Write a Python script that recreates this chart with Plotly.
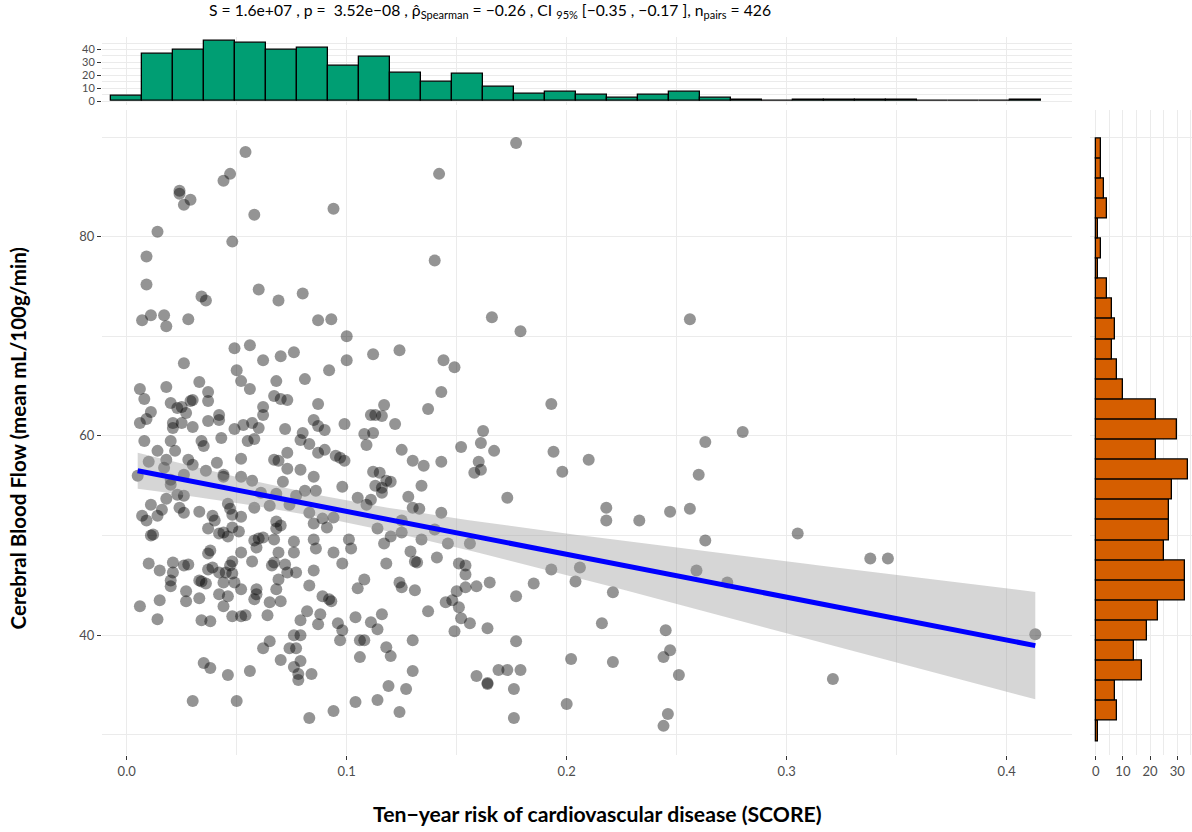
import numpy as np
import plotly.graph_objects as go

# ---------------- data ----------------
risk = [
 0.054,0.047,0.044,0.024,0.024,0.029,0.026,0.058,0.094,0.014,0.048,0.009,0.009,0.060,0.034,0.036,0.069,0.080,
 0.007,0.011,0.017,0.018,0.028,0.087,0.093,0.100,0.049,0.056,0.026,0.062,0.070,0.076,0.100,0.050,0.052,0.056,
 0.068,0.081,0.092,0.006,0.008,0.018,0.033,0.037,0.037,0.020,0.023,0.025,0.029,0.030,0.027,0.011,0.006,0.009,
 0.021,0.021,0.025,0.030,0.037,0.042,0.042,0.049,0.053,0.057,0.060,0.062,0.062,0.067,0.070,0.073,0.072,0.087,
 0.085,0.087,0.090,0.099,0.080,
 0.008,0.020,0.034,0.035,0.043,0.055,0.058,0.079,0.083,0.087,0.090,0.095,0.097,0.099,
 0.014,0.022,0.018,0.010,0.017,0.005,0.028,0.030,0.026,0.020,0.020,0.036,0.041,0.044,0.044,0.052,0.052,0.057,
 0.067,0.069,0.073,0.073,0.079,0.085,0.071,0.081,0.086,0.098,0.077,0.068,0.061,0.058,0.065,0.074,0.083,
 0.011,0.016,0.018,0.023,0.026,0.024,0.026,0.007,0.009,0.014,0.033,0.039,0.040,0.046,0.047,0.048,0.052,0.037,
 0.042,0.044,0.046,0.048,0.051,0.068,0.070,0.068,0.085,0.089,0.091,0.094,0.011,0.012,
 0.058,0.060,0.062,0.067,0.059,0.076,0.076,0.085,0.086,0.094,0.101,0.102,
 0.010,0.015,0.021,0.021,0.020,0.020,0.026,0.028,0.037,0.038,0.037,0.039,0.033,0.034,0.036,0.042,0.045,0.047,
 0.048,0.048,0.044,0.049,0.052,0.052,0.057,0.066,0.067,0.069,0.072,0.073,0.069,0.077,0.085,0.098,0.083,
 0.059,0.059,0.058,0.068,0.070,0.065,0.064,0.027,0.027,0.033,0.042,0.046,0.044,0.015,0.006,0.014,0.034,0.038,
 0.048,0.052,0.054,0.089,0.092,0.093,0.079,0.082,0.087,0.088,0.096,0.098,0.097,0.076,0.079,0.065,
 0.062,0.074,0.077,0.070,0.079,0.076,0.078,0.078,0.084,0.035,0.038,0.046,0.056,0.030,0.050,0.083,0.094,
 0.177,0.142,0.140,0.166,0.179,0.112,0.124,0.144,0.149,0.143,0.137,0.117,0.111,0.113,0.116,0.122,0.108,0.112,
 0.193,0.162,
 0.109,0.125,0.130,0.135,0.143,0.152,0.161,0.167,0.160,0.161,0.158,0.173,0.194,0.198,0.210,0.112,0.115,0.113,
 0.116,0.118,0.120,0.116,0.111,0.105,0.109,0.134,0.128,0.130,0.133,0.143,0.125,0.125,0.120,0.117,0.114,0.140,
 0.134,0.146,0.156,0.129,0.131,0.132,0.141,0.118,0.151,0.154,0.154,0.108,0.105,0.124,0.125,0.131,0.154,0.159,
 0.165,0.177,0.185,0.193,0.206,0.204,0.218,0.218,0.150,0.148,0.145,0.151,0.152,0.156,0.149,0.164,0.137,0.116,
 0.111,0.114,0.104,0.106,0.108,0.106,0.118,0.120,0.130,0.177,0.202,0.130,0.119,0.127,0.104,0.114,0.124,0.159,
 0.164,0.164,0.169,0.173,0.179,0.176,0.200,0.176,0.216,
 0.256,0.280,0.263,0.260,0.233,0.247,0.256,0.263,0.305,0.338,0.346,0.259,0.273,0.221,0.245,0.247,0.244,0.221,
 0.251,0.321,0.246,0.244,0.413,
]
cbf = [
 88.5,86.3,85.6,84.6,84.3,83.7,83.2,82.2,82.8,80.5,79.5,78.0,75.2,74.7,74.0,73.6,73.6,74.3,
 71.6,72.1,72.1,71.0,71.7,71.6,71.7,70.0,68.8,69.1,67.3,67.6,68.0,68.4,67.6,66.6,65.5,64.7,
 65.5,65.7,66.6,64.7,63.7,64.9,65.4,64.4,63.5,63.3,62.8,62.9,63.5,63.6,62.3,62.4,61.3,61.7,
 61.3,60.8,61.3,60.9,61.5,62.1,61.6,60.7,61.1,61.3,60.8,62.9,62.1,64.0,63.7,63.6,60.7,63.2,
 61.6,61.0,60.6,61.2,60.3,
 59.5,59.5,59.5,59.0,59.8,59.5,59.7,59.6,59.2,58.3,58.6,58.0,57.8,57.5,
 58.5,58.5,57.6,57.4,56.8,56.0,57.6,57.1,56.1,55.6,55.1,56.5,57.3,56.1,55.9,57.7,55.9,55.5,
 57.6,57.5,58.3,56.7,56.6,55.9,55.4,54.5,54.5,54.9,54.0,54.2,54.3,52.8,53.0,53.1,52.3,
 53.1,52.6,53.7,54.1,54.0,52.8,52.3,52.0,51.5,52.0,52.4,52.0,51.5,53.2,52.7,52.1,51.9,50.7,
 50.2,50.3,49.9,50.8,50.4,51.4,51.0,50.7,51.2,51.7,50.8,51.8,50.0,50.1,
 49.5,49.7,49.8,49.6,48.8,49.4,48.3,49.6,48.7,48.3,49.6,48.7,
 47.2,46.5,47.3,46.3,45.5,44.9,47.0,47.1,48.2,48.5,46.6,46.8,45.5,45.4,45.2,46.3,46.3,47.0,
 47.4,46.2,45.3,45.3,44.6,48.3,47.4,47.0,47.3,48.3,47.1,46.3,45.6,46.3,46.5,47.2,45.0,
 44.6,44.1,43.6,44.6,43.4,43.3,42.0,44.4,43.4,43.7,44.1,43.9,42.9,43.5,42.9,41.6,41.5,41.4,
 41.9,41.9,42.0,43.9,43.6,43.4,41.5,42.4,41.1,42.1,41.2,40.5,39.5,40.0,40.0,39.4,
 38.7,38.7,38.7,37.5,37.4,36.8,36.1,35.5,36.1,37.2,36.7,36.0,36.4,33.4,33.4,31.7,32.4,
 89.4,86.3,77.6,71.9,70.5,68.2,68.6,67.6,66.9,64.4,62.7,63.1,62.1,62.1,62.0,61.2,60.2,60.3,
 63.2,60.5,
 59.1,58.6,57.5,57.0,57.4,58.9,59.3,58.5,57.4,56.6,56.3,53.8,58.4,56.4,57.6,56.4,56.3,55.0,
 54.8,55.5,55.4,54.3,53.6,53.8,53.1,55.0,53.9,52.8,52.7,52.3,51.5,50.3,49.9,49.2,50.7,50.6,
 49.6,49.2,49.2,48.4,47.4,47.3,47.8,47.2,47.2,47.0,46.1,45.6,44.7,45.3,44.8,44.5,44.8,44.9,
 45.3,43.9,45.2,46.6,46.8,45.4,52.8,51.5,44.4,43.5,43.3,42.8,41.7,41.2,40.4,40.7,42.4,42.1,
 41.3,40.6,41.8,39.5,39.5,37.8,38.8,37.9,39.5,39.4,37.6,36.4,34.9,34.6,33.3,33.5,32.3,35.9,
 35.2,35.1,36.5,36.5,36.5,34.6,33.1,31.7,41.2,
 71.7,60.4,59.4,56.1,51.5,52.4,52.7,49.5,50.2,47.7,47.7,46.5,45.3,44.3,40.5,38.5,37.8,37.3,
 36.0,35.6,32.1,30.9,40.1,
]

# marginal histogram of the risk score (30 bins)
risk_bin_start = -0.0073
risk_bin_width = 0.0141
risk_counts = [4, 37, 40, 47, 45, 40, 41, 27, 34, 22, 15, 21, 11, 6, 7,
               5, 3, 5, 7, 3, 1, 0, 1, 1, 1, 1, 0, 0, 0, 1]

# marginal histogram of cerebral blood flow (30 bins, from low to high)
cbf_bin_start = 29.37
cbf_bin_width = 2.017
cbf_counts = [1, 8, 7, 17, 14, 19, 23, 33, 33, 25, 27, 27, 28, 34, 22,
              30, 22, 10, 8, 6, 7, 6, 4, 1, 2, 1, 4, 3, 2, 2]

x_ticks = [0.0, 0.1, 0.2, 0.3, 0.4]
y_ticks = [40, 60, 80]
top_hist_ticks = [0, 10, 20, 30, 40]
right_hist_ticks = [0, 10, 20, 30]

title_text = ("S = 1.6e+07 , p =  3.52e−08 , ρ̂<sub>Spearman</sub> = −0.26 , "
              "CI <sub>95%</sub> [−0.35 , −0.17 ], n<sub>pairs</sub> = 426")
x_title = "Ten−year risk of cardiovascular disease (SCORE)"
y_title = "Cerebral Blood Flow (mean mL/100g/min)"

# ---------------- linear fit with 95% CI ----------------
xa = np.array(risk)
ya = np.array(cbf)
n = len(xa)
slope, intercept = np.polyfit(xa, ya, 1)
xg = np.linspace(xa.min(), xa.max(), 80)
yhat = intercept + slope * xg
resid = ya - (intercept + slope * xa)
s = np.sqrt(np.sum(resid ** 2) / (n - 2))
sxx = np.sum((xa - xa.mean()) ** 2)
se = s * np.sqrt(1.0 / n + (xg - xa.mean()) ** 2 / sxx)
tcrit = 1.966
upper = yhat + tcrit * se
lower = yhat - tcrit * se

risk_centers = risk_bin_start + risk_bin_width * (np.arange(len(risk_counts)) + 0.5)
cbf_centers = cbf_bin_start + cbf_bin_width * (np.arange(len(cbf_counts)) + 0.5)

# ---------------- layout geometry (pixels) ----------------
W, H = 1192, 832
def fx(px): return px / W
def fy(py): return 1 - py / H

L, R = 102, 1072         # main panel left/right
T, B = 110, 758          # main panel top/bottom
HT, HB = 37, 105         # top histogram panel
RL, RR = 1090, 1192      # right histogram panel

x_lo, x_hi = (L - 126.7) / 2200, (R - 126.7) / 2200
y_hi, y_lo = 80 + (237.5 - T) / 10, 80 - (B - 237.5) / 10
c_hi, c_lo = (101.7 - HT) / 1.3, (101.7 - HB) / 1.3
r_lo, r_hi = (RL - 1095.7) / 2.72, (RR - 1095.7) / 2.72

FONT = "Lato"
GRID = "#ebebeb"
TICKC = "#4d4d4d"

fig = go.Figure()

# scatter points
fig.add_trace(go.Scatter(x=risk, y=cbf, mode="markers",
                         marker=dict(size=12, color="rgba(0,0,0,0.42)", line=dict(width=0)),
                         xaxis="x", yaxis="y", hoverinfo="skip"))
# CI band
fig.add_trace(go.Scatter(x=np.concatenate([xg, xg[::-1]]), y=np.concatenate([upper, lower[::-1]]),
                         fill="toself", fillcolor="rgba(153,153,153,0.4)", line=dict(width=0),
                         mode="lines", xaxis="x", yaxis="y", hoverinfo="skip"))
# regression line
fig.add_trace(go.Scatter(x=xg, y=yhat, mode="lines", line=dict(color="#0000FF", width=5),
                         xaxis="x", yaxis="y", hoverinfo="skip"))
# top histogram
fig.add_trace(go.Bar(x=risk_centers, y=risk_counts, width=risk_bin_width,
                     marker=dict(color="#009E73", line=dict(color="black", width=1.3)),
                     xaxis="x2", yaxis="y2", hoverinfo="skip"))
# right histogram
fig.add_trace(go.Bar(y=cbf_centers, x=cbf_counts, width=cbf_bin_width, orientation="h",
                     marker=dict(color="#D55E00", line=dict(color="black", width=1.3)),
                     xaxis="x3", yaxis="y3", hoverinfo="skip"))

def ax(**kw):
    base = dict(showline=False, zeroline=False, gridcolor=GRID, gridwidth=1,
                tickfont=dict(family=FONT, size=13, color=TICKC),
                ticks="outside", ticklen=4, tickcolor="#333333", tickwidth=1)
    base.update(kw)
    return base

fig.update_layout(
    width=W, height=H, margin=dict(l=0, r=0, t=0, b=0),
    plot_bgcolor="white", paper_bgcolor="white", showlegend=False, bargap=0,
    font=dict(family=FONT, color=TICKC),
    xaxis=ax(domain=[fx(L), fx(R)], range=[x_lo, x_hi], anchor="y",
             tickvals=x_ticks, ticktext=[f"{v:.1f}" for v in x_ticks],
             minor=dict(dtick=0.05, tick0=0, showgrid=True, gridcolor=GRID, ticks="")),
    yaxis=ax(domain=[fy(B), fy(T)], range=[y_lo, y_hi], anchor="x",
             tickvals=y_ticks,
             minor=dict(dtick=10, tick0=0, showgrid=True, gridcolor=GRID, ticks="")),
    xaxis2=ax(domain=[fx(L), fx(R)], range=[x_lo, x_hi], anchor="y2",
              tickvals=x_ticks, showticklabels=False, ticks="",
              minor=dict(dtick=0.05, tick0=0, showgrid=True, gridcolor=GRID, ticks="")),
    yaxis2=ax(domain=[fy(HB), fy(HT)], range=[c_lo, c_hi], anchor="x2",
              tickvals=top_hist_ticks, tickfont=dict(family=FONT, size=11, color=TICKC),
              minor=dict(dtick=5, tick0=0, showgrid=True, gridcolor=GRID, ticks="")),
    xaxis3=ax(domain=[fx(RL), fx(RR)], range=[r_lo, r_hi], anchor="y3",
              tickvals=right_hist_ticks,
              minor=dict(dtick=5, tick0=0, showgrid=True, gridcolor=GRID, ticks="")),
    yaxis3=ax(domain=[fy(B), fy(T)], range=[y_lo, y_hi], anchor="x3",
              tickvals=y_ticks, showticklabels=False, ticks="",
              minor=dict(dtick=10, tick0=0, showgrid=True, gridcolor=GRID, ticks="")),
)

fig.add_annotation(text=title_text, xref="paper", yref="paper", x=fx(207), y=fy(11),
                   xanchor="left", yanchor="middle", showarrow=False,
                   font=dict(family=FONT, size=15.7, color="black"))
fig.add_annotation(text="<b>" + x_title + "</b>", xref="paper", yref="paper",
                   x=fx(597), y=fy(817), xanchor="center", yanchor="middle",
                   showarrow=False, font=dict(family=FONT, size=21.2, color="black"))
fig.add_annotation(text="<b>" + y_title + "</b>", xref="paper", yref="paper",
                   x=fx(18), y=fy(440), xanchor="center", yanchor="middle",
                   textangle=-90, showarrow=False, font=dict(family=FONT, size=20.5, color="black"))

fig.write_html("out.html", config={"displayModeBar": False},
               post_script="document.body.style.margin='0px';")
